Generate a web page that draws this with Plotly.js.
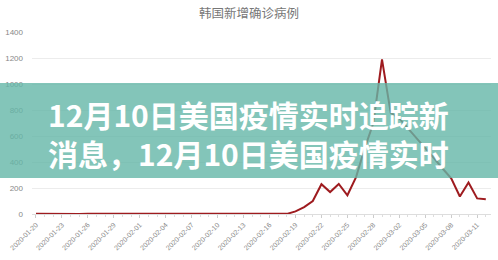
<!DOCTYPE html>
<html>
<head>
<meta charset="utf-8">
<script src="https://cdn.plot.ly/plotly-3.0.1.min.js"></script>
<style>
  html, body { margin: 0; padding: 0; background: #fff; }
  #chart { width: 498px; height: 260px; }
</style>
</head>
<body>
<div id="chart"></div>
<script>
// Daily new confirmed cases, South Korea
const dates = [
  '2020-01-20','2020-01-21','2020-01-22','2020-01-23','2020-01-24','2020-01-25',
  '2020-01-26','2020-01-27','2020-01-28','2020-01-29','2020-01-30','2020-01-31',
  '2020-02-01','2020-02-02','2020-02-03','2020-02-04','2020-02-05','2020-02-06',
  '2020-02-07','2020-02-08','2020-02-09','2020-02-10','2020-02-11','2020-02-12',
  '2020-02-13','2020-02-14','2020-02-15','2020-02-16','2020-02-17','2020-02-18',
  '2020-02-19','2020-02-20','2020-02-21','2020-02-22','2020-02-23','2020-02-24',
  '2020-02-25','2020-02-26','2020-02-27','2020-02-28','2020-02-29','2020-03-01',
  '2020-03-02','2020-03-03','2020-03-04','2020-03-05','2020-03-06','2020-03-07',
  '2020-03-08','2020-03-09','2020-03-10','2020-03-11','2020-03-12'
];
const newCases = [
  1, 0, 0, 0, 1, 0,
  1, 1, 0, 0, 3, 4,
  1, 3, 0, 1, 2, 5,
  1, 0, 3, 1, 0, 0,
  0, 0, 0, 1, 0, 1,
  20, 53, 100, 229, 169, 231,
  144, 284, 505, 700, 1190, 780,
  735, 660, 585, 505, 430, 350,
  275, 135, 243, 120, 113
];
const yTicks = [0, 200, 400, 600, 800, 1000, 1200, 1400];
const chartTitle = '韩国新增确诊病例';
const bannerLines = ['12月10日美国疫情实时追踪新', '消息，12月10日美国疫情实时'];

const DAY = 86400000;
const t0 = new Date(dates[0] + 'T00:00:00Z').getTime();
const t1 = new Date(dates[dates.length - 1] + 'T00:00:00Z').getTime();
const iso = t => new Date(t).toISOString().slice(0, 19).replace('T', ' ');

const trace = {
  x: dates,
  y: newCases,
  type: 'scatter',
  mode: 'lines',
  line: { color: '#9e1b1f', width: 2 },
  hoverinfo: 'x+y'
};

const layout = {
  width: 498,
  height: 260,
  margin: { l: 32, r: 7, t: 32, b: 46 },
  paper_bgcolor: '#ffffff',
  plot_bgcolor: '#ffffff',
  showlegend: false,
  title: {
    text: chartTitle,
    x: 0.5, xref: 'container', xanchor: 'center',
    y: 0.946, yref: 'container', yanchor: 'middle',
    font: { family: 'Noto Sans CJK SC, sans-serif', size: 12.5, color: '#777' }
  },
  xaxis: {
    type: 'date',
    range: [iso(t0 - 0.46 * DAY), iso(t1 + 0.6 * DAY)],
    tick0: dates[0],
    dtick: 3 * DAY,
    tickformat: '%Y-%m-%d',
    tickangle: -45,
    ticks: 'outside',
    ticklen: 3,
    tickcolor: '#ccc',
    minor: { dtick: DAY, ticks: 'outside', ticklen: 2, tickcolor: '#ddd' },
    showgrid: false,
    showline: true,
    linecolor: '#ddd',
    linewidth: 1,
    zeroline: false,
    tickfont: { family: 'Liberation Sans, Arial, sans-serif', size: 7, color: '#888' }
  },
  yaxis: {
    range: [0, 1400],
    tickvals: yTicks,
    ticktext: yTicks.map(String),
    showgrid: true,
    gridcolor: '#ececec',
    gridwidth: 1,
    zeroline: false,
    showline: false,
    ticks: '',
    ticklabelstandoff: 8,
    tickfont: { family: 'Liberation Sans, Arial, sans-serif', size: 8, color: '#888' }
  },
  shapes: [{
    // translucent headline band across the middle of the chart
    type: 'rect',
    layer: 'above',
    xref: 'paper', yref: 'paper',
    x0: -0.08, x1: 1.03,
    y0: (214 - 178) / 182, y1: (214 - 83) / 182,
    fillcolor: 'rgba(100,182,168,0.8)',
    line: { width: 0 }
  }],
  annotations: [{
    xref: 'paper', yref: 'paper',
    x: (248 - 32) / 459, y: (214 - 133.5) / 182,
    xanchor: 'center', yanchor: 'middle',
    text: bannerLines.map(s => '<b>' + s + '</b>').join('<br>'),
    showarrow: false,
    align: 'center',
    font: { family: 'Noto Sans CJK SC, sans-serif', size: 30, color: '#ffffff', weight: 900 }
  }]
};

Plotly.newPlot('chart', [trace], layout, { staticPlot: true, displayModeBar: false });
</script>
</body>
</html>
